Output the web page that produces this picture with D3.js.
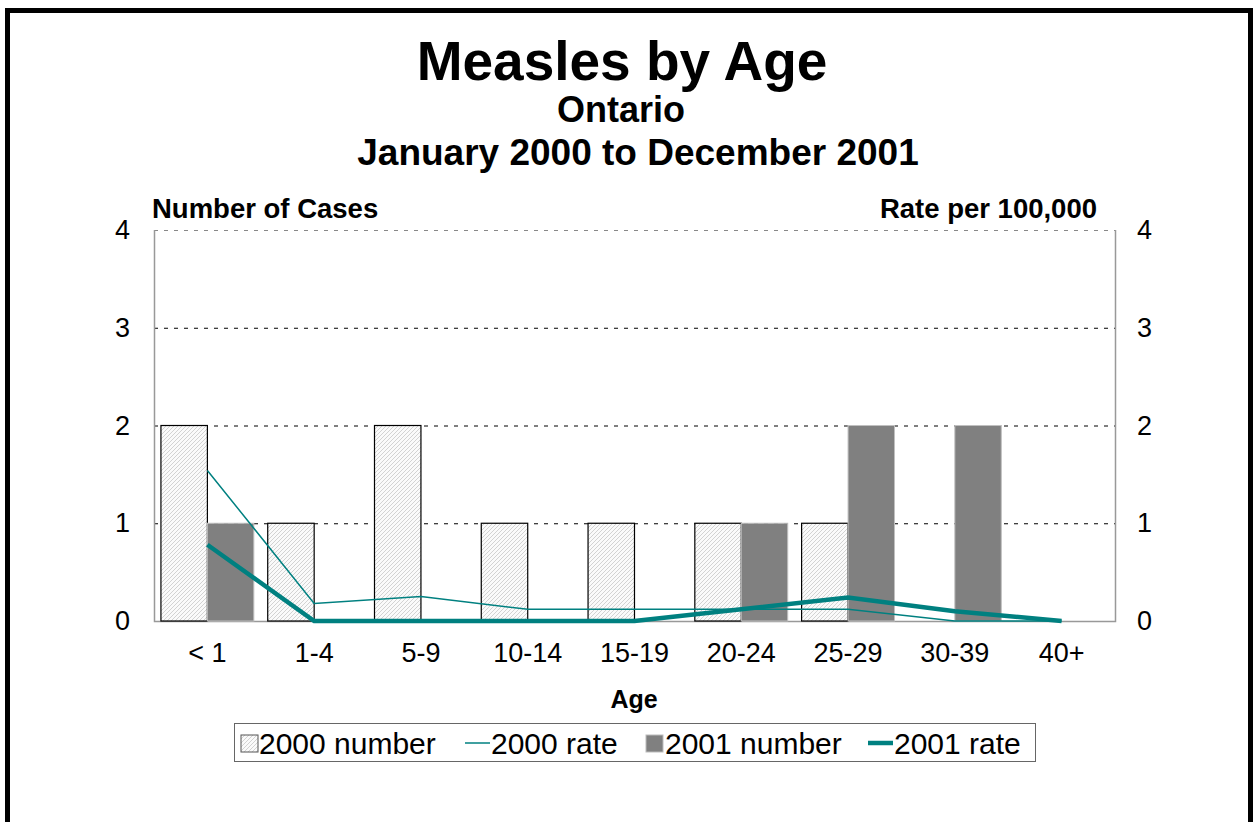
<!DOCTYPE html>
<html><head><meta charset="utf-8">
<script src="https://cdn.jsdelivr.net/npm/d3@7"></script>
<style>body{margin:0;background:#fff}svg{display:block;font-family:"Liberation Sans",Arial,sans-serif}</style>
</head><body><svg id="c" width="1254" height="822"></svg>
<script>
const categories = ["< 1","1-4","5-9","10-14","15-19","20-24","25-29","30-39","40+"];
const num2000 = [2,1,2,1,1,1,1,0,0];
const num2001 = [1,0,0,0,0,1,2,2,0];
const rate2000 = [1.54,0.18,0.25,0.12,0.12,0.12,0.12,0,0];
const rate2001 = [0.78,0,0,0,0,0.12,0.24,0.1,0];
const yTicks = [0,1,2,3,4];

const svg = d3.select("#c");
const defs = svg.append("defs");
const pat = defs.append("pattern").attr("id","hatch").attr("patternUnits","userSpaceOnUse")
  .attr("width",4).attr("height",4);
pat.append("rect").attr("width",4).attr("height",4).attr("fill","#fafafa");
pat.append("path").attr("d","M-1,1 l2,-2 M0,4 l4,-4 M3,5 l2,-2").attr("stroke","#c8c8c8").attr("stroke-width",0.8);

// frame
svg.append("path").attr("d","M7.5,830 V10.5 H1250.5 V830").attr("fill","none").attr("stroke","#000").attr("stroke-width",5);

const L=154, R=1115, T=230, B=621;
const x = d3.scaleBand().domain(categories).range([L,R]).paddingInner(0.13).paddingOuter(0.065);
const y = d3.scaleLinear().domain([0,4]).range([B,T]);
const x2 = d3.scaleBand().domain(["a","b"]).range([0,x.bandwidth()]);

// gridlines
svg.append("g").selectAll("line").data(yTicks.filter(d=>d>0)).join("line")
  .attr("x1",L).attr("x2",R).attr("y1",d=>y(d)+0.5).attr("y2",d=>y(d)+0.5)
  .attr("stroke",d=>d===4?"#888":"#000").attr("stroke-width",1).attr("stroke-dasharray","4,6");

// plot border
svg.append("path").attr("d",`M${L+0.5},${T} V${B+0.5} H${R+0.5} V${T}`).attr("fill","none").attr("stroke","#999").attr("stroke-width",1.5);

// bars
svg.append("g").selectAll("rect").data(num2000).join("rect")
  .attr("x",(d,i)=>x(categories[i])+x2("a")).attr("width",x2.bandwidth())
  .attr("y",d=>y(d)).attr("height",d=>B-y(d))
  .attr("fill","url(#hatch)").attr("stroke",d=>d>0?"#000":"none").attr("stroke-width",1.2);
svg.append("g").selectAll("rect").data(num2001).join("rect")
  .attr("x",(d,i)=>x(categories[i])+x2("b")).attr("width",x2.bandwidth())
  .attr("y",d=>y(d)).attr("height",d=>B-y(d))
  .attr("fill","#808080").attr("stroke",d=>d>0?"#c0c0c0":"none").attr("stroke-width",1);

// lines
const cx = c => x(c)+x.bandwidth()/2;
const line = d3.line().x((d,i)=>cx(categories[i])).y(d=>y(d));
svg.append("path").datum(rate2000).attr("d",line).attr("fill","none").attr("stroke","#008080").attr("stroke-width",1.5);
svg.append("path").datum(rate2001).attr("d",line).attr("fill","none").attr("stroke","#008080").attr("stroke-width",4.5);

// axes
const yl = d3.axisLeft(y).tickValues(yTicks).tickSize(0).tickPadding(24).tickFormat(d3.format("d"));
const gl = svg.append("g").attr("transform",`translate(${L},0)`).call(yl);
const yr = d3.axisRight(y).tickValues(yTicks).tickSize(0).tickPadding(22).tickFormat(d3.format("d"));
const gr = svg.append("g").attr("transform",`translate(${R},0)`).call(yr);
const xa = d3.axisBottom(x).tickSize(0);
const gx = svg.append("g").attr("transform",`translate(0,${B})`).call(xa);
[gl,gr,gx].forEach(g=>{g.select(".domain").remove();g.selectAll("text").attr("font-size",27).attr("fill","#000").attr("font-family","Liberation Sans, Arial, sans-serif");});
gx.selectAll("text").attr("y",41).attr("dy",0);

// titles
const t = (txt,xx,yy,size,anchor,weight)=>svg.append("text").text(txt).attr("x",xx).attr("y",yy)
  .attr("font-size",size).attr("text-anchor",anchor).attr("font-weight",weight).attr("fill","#000");
t("Measles by Age",622,80,55,"middle","bold");
t("Ontario",621,122,36,"middle","bold");
t("January 2000 to December 2001",638,165,37,"middle","bold");
t("Number of Cases",152,218,27.5,"start","bold");
t("Rate per 100,000",1097,218,27.5,"end","bold");
t("Age",634,708,25,"middle","bold");

// legend
const lg = svg.append("g");
lg.append("rect").attr("x",234.5).attr("y",723.5).attr("width",801).attr("height",38).attr("fill","#fff").attr("stroke","#666").attr("stroke-width",1);
const ly = 743;
lg.append("rect").attr("x",241).attr("y",735).attr("width",17).attr("height",17).attr("fill","url(#hatch)").attr("stroke","#555");
t("2000 number",259,754,30,"start","normal");
lg.append("line").attr("x1",465).attr("x2",490).attr("y1",ly).attr("y2",ly).attr("stroke","#008080").attr("stroke-width",1.5);
t("2000 rate",491,754,30,"start","normal");
lg.append("rect").attr("x",646).attr("y",735).attr("width",17).attr("height",17).attr("fill","#808080").attr("stroke","#bbb");
t("2001 number",665,754,30,"start","normal");
lg.append("line").attr("x1",868).attr("x2",893).attr("y1",ly).attr("y2",ly).attr("stroke","#008080").attr("stroke-width",4.5);
t("2001 rate",894,754,30,"start","normal");
</script></body></html>
